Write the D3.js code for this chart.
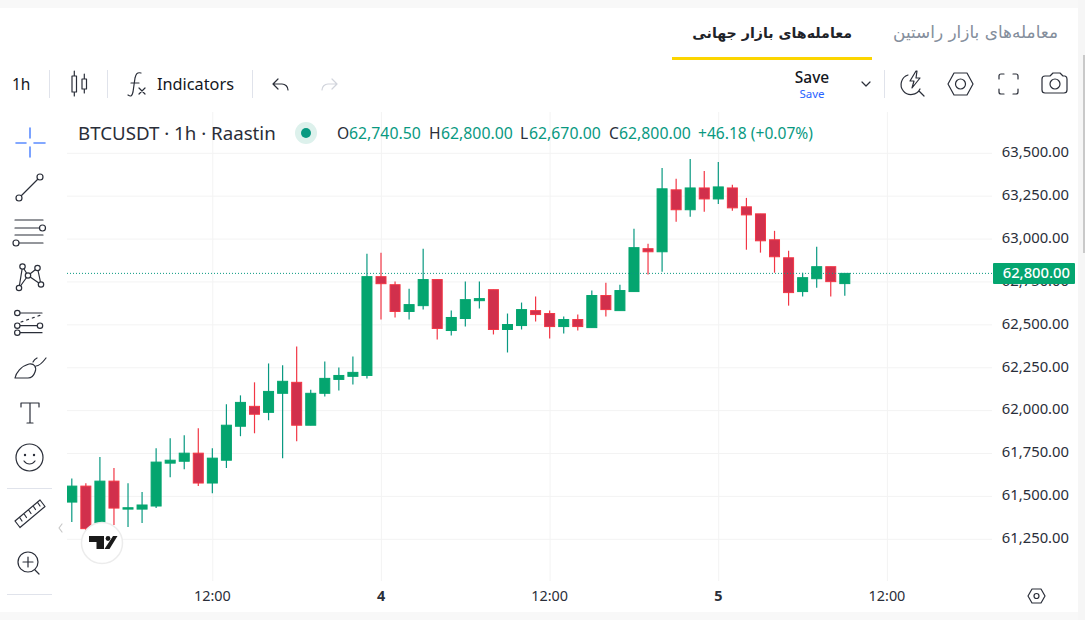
<!DOCTYPE html>
<html><head><meta charset="utf-8">
<style>html,body{margin:0;padding:0;background:#fff;overflow:hidden}svg{display:block}text{font-family:"Noto Sans",sans-serif}</style>
<script src="https://cdn.jsdelivr.net/npm/d3@7"></script></head>
<body><svg id="c" width="1085" height="620"></svg>
<script>
const opens =[61467,61560,61312,61589,61426,61426,61444,61694,61705,61752,61578,61711,61909,62025,61990,62101,62165,61915,62101,62182,62200,62205,62781,62734,62578,62612,62764,62467,62537,62641,62705,62473,62496,62583,62566,62490,62531,62484,62671,62583,62694,62944,62926,63287,63171,63298,63234,63298,63188,63147,62996,62891,62694,62769,62839,62740.5];
const highs =[61605,61577,61729,61665,61577,61525,61781,61839,61857,61897,61781,62037,62089,62165,62275,62264,62374,62122,62287,62252,62316,62915,62921,62752,62711,62944,62764,62583,62752,62752,62705,62566,62630,62665,62583,62548,62560,62700,62746,62734,63060,62973,63415,63351,63467,63397,63450,63316,63240,63147,63048,62932,62804,62955,62839,62800];
const lows  =[61351,61290,61295,61333,61322,61345,61432,61612,61659,61560,61519,61665,61851,61868,61944,61723,61822,61915,62083,62118,62153,62188,62531,62543,62531,62589,62415,62438,62490,62595,62444,62339,62473,62519,62421,62450,62467,62484,62548,62583,62694,62793,62810,63101,63130,63159,63205,63165,62938,62921,62804,62612,62665,62717,62665,62670];
const closes=[61560,61312,61589,61432,61434,61450,61700,61711,61752,61578,61723,61915,62048,61979,62112,62171,61915,62101,62188,62205,62223,62781,62740,62578,62618,62764,62479,62543,62647,62653,62473,62502,62589,62560,62490,62531,62490,62671,62589,62700,62950,62926,63293,63171,63298,63234,63304,63182,63141,62990,62897,62688,62775,62839,62752,62800];
const priceTicks=[63500,63250,63000,62750,62500,62250,62000,61750,61500,61250];
const timeIdx=[10,22,34,46,58];
const timeLabels=["12:00","4","12:00","5","12:00"];
const lastPrice=62800;
const legendO="62,740.50",legendH="62,800.00",legendL="62,670.00",legendC="62,800.00",legendChange="+46.18 (+0.07%)";

const UP="#04a56f",UPW="#089981",DN="#d1304c",DNW="#f23645",INK="#131722",GRID="#f3f3f3";
const svg=d3.select("#c");
const x=d3.scaleLinear().domain([0,55]).range([71.8,844.8]);
const y=d3.scaleLinear().domain([61250,63500]).range([539.3,153.3]);
const fmt=d3.format(",.2f");
const data=opens.map((o,i)=>({i,o,h:highs[i],l:lows[i],c:closes[i]}));

// page chrome
svg.append("rect").attr("width",1085).attr("height",8).attr("fill","#f8f8f8");
svg.append("rect").attr("y",612).attr("width",1085).attr("height",8).attr("fill","#f8f8f8");
svg.append("rect").attr("x",1078).attr("width",7).attr("height",620).attr("fill","#f6f6f6");
svg.append("rect").attr("x",1083).attr("y",55).attr("width",2).attr("height",198).attr("fill","#c9c9c9");

// grid
const defs=svg.append("defs");
defs.append("clipPath").attr("id","pane").append("rect").attr("x",67).attr("y",112).attr("width",925).attr("height",469);
const pane=svg.append("g").attr("clip-path","url(#pane)");
pane.append("g").selectAll("line").data(priceTicks).join("line")
 .attr("x1",67).attr("x2",992).attr("y1",d=>y(d)).attr("y2",d=>y(d)).attr("stroke",GRID);
pane.append("g").selectAll("line").data(timeIdx).join("line")
 .attr("x1",d=>x(d)+.4).attr("x2",d=>x(d)+.4).attr("y1",112).attr("y2",581).attr("stroke",GRID);

// candles
const g=pane.append("g").selectAll("g").data(data).join("g");
g.append("line").attr("x1",d=>x(d.i)).attr("x2",d=>x(d.i)).attr("y1",d=>y(d.h)).attr("y2",d=>y(d.l))
 .attr("stroke",d=>d.c>=d.o?UPW:DNW).attr("stroke-width",1.2);
g.append("rect").attr("x",d=>x(d.i)-5).attr("width",10)
 .attr("y",d=>y(Math.max(d.o,d.c))).attr("height",d=>Math.max(.6,Math.abs(y(d.o)-y(d.c))))
 .attr("fill",d=>d.c>=d.o?UP:DN).attr("stroke",d=>d.c>=d.o?UP:DNW).attr("stroke-width",1);

// last price line
svg.append("line").attr("x1",67).attr("x2",992).attr("y1",y(lastPrice)).attr("y2",y(lastPrice))
 .attr("stroke",UPW).attr("stroke-width",1).attr("stroke-dasharray","1 2");

// axes text
svg.append("g").selectAll("text").data(priceTicks).join("text")
 .attr("x",1069).attr("y",d=>y(d)+3.8).attr("text-anchor","end").attr("font-size",14.8).attr("fill","#2a2e39").text(fmt);
svg.append("rect").attr("x",993).attr("y",263).attr("width",82).attr("height",21).attr("rx",1).attr("fill",UP);
svg.append("text").attr("x",1070).attr("y",y(lastPrice)+5).attr("text-anchor","end").attr("font-size",14.8).attr("font-weight",500).attr("fill","#fff").text(fmt(lastPrice));
svg.append("g").selectAll("text").data(timeIdx).join("text")
 .attr("x",d=>x(d)).attr("y",601).attr("text-anchor","middle").attr("font-size",14.4)
 .attr("font-weight",(d,i)=>timeLabels[i].length===1?700:400).attr("fill","#2a2e39").text((d,i)=>timeLabels[i]);

// tabs
const tabs=svg.append("g");
tabs.append("text").attr("x",852).attr("y",38).attr("direction","rtl").attr("font-size",14.2).attr("font-weight",700).attr("fill","#1e2329").style("font-family","'DejaVu Sans'").text("معامله‌های بازار جهانی");
tabs.append("text").attr("x",1058).attr("y",38).attr("direction","rtl").attr("font-size",16.9).attr("fill","#848e9c").style("font-family","'DejaVu Sans'").text("معامله‌های بازار راستین");
svg.append("rect").attr("x",672).attr("y",57).attr("width",200).attr("height",3).attr("fill","#fcd500");

// toolbar
const t=(px,py,s,size,col,w,anch)=>svg.append("text").attr("x",px).attr("y",py).attr("font-size",size).attr("fill",col||INK).attr("font-weight",w||400).attr("text-anchor",anch||"start").text(s);
t(12,90,"1h",15.5);
t(157,90,"Indicators",16.3);
t(812,83,"Save",15.5,INK,500,"middle");
t(812,97.5,"Save",11.5,"#2962ff",400,"middle");
[49,107,252,884].forEach(v=>svg.append("line").attr("x1",v+.5).attr("x2",v+.5).attr("y1",70).attr("y2",98).attr("stroke","#e0e3eb"));
const ic=(d,col,w,fill)=>svg.append("path").attr("d",d).attr("fill",fill||"none").attr("stroke",col||"#2a2e39").attr("stroke-width",w||1.2).attr("stroke-linecap","round").attr("stroke-linejoin","round");
const circ=(cx,cy,r,col,w)=>svg.append("circle").attr("cx",cx).attr("cy",cy).attr("r",r).attr("fill","#fff").attr("stroke",col||"#2a2e39").attr("stroke-width",w||1.2);
// candle icon
ic("M72 76h4.500v16H72zM74.300 71v5M74.300 92v4M82 79h4.500v10H82zM84.300 74v5M84.300 89v4");
// fx
ic("M141 73c-4-1-5 1-6 5l-2 14c-1 4-2 5-5 3M131 83h8");
ic("M139 88l6 6M145 88l-6 6");
// undo redo
ic("M273 84h9a6 6 0 0 1 6 6M273 84l5-5M273 84l5 5");
ic("M337 84h-9a6 6 0 0 0-6 6M337 84l-5-5M337 84l-5 5","#d1d4dc");
// chevron
ic("M862 82l4 4 4-4");
// lightning search
ic("M919 91l5 5M908 75A10 10 0 1 0 920 89");
ic("M916 71l-6 10h4l-2 7 8-10h-4l1-7z");
// hexagon
ic("M948 84l6-11h13l6 11-6 11h-13z");circ(960.5,84,5);
// fullscreen
ic("M999 79v-3a2 2 0 0 1 2-2h3M1013 74h3a2 2 0 0 1 2 2v3M1018 89v3a2 2 0 0 1-2 2h-3M1004 94h-3a2 2 0 0 1-2-2v-3");
// camera
ic("M1042 79a3 3 0 0 1 3-3h5l3-3h7l3 3h2a3 3 0 0 1 2 3v11a3 3 0 0 1-3 3h-19a3 3 0 0 1-3-3z");circ(1055,84,5);

// legend
t(78,140,"BTCUSDT · 1h · Raastin",18.7,"#2a2e39",400);
svg.append("circle").attr("cx",306).attr("cy",133).attr("r",11).attr("fill","#ddf1ec");
svg.append("circle").attr("cx",306).attr("cy",133).attr("r",5).attr("fill",UPW);
[[337,"O",349,legendO],[429,"H",441,legendH],[520,"L",529,legendL],[609,"C",619,legendC]].forEach(r=>{
 t(r[0],139,r[1],15.6,"#2a2e39");t(r[2],139,r[3],15.8,UPW);
});
t(698,139,legendChange,15.6,UPW);

// left tools
ic("M16 143h10M34 143h11M30 128v10M30 147v10","#5b8cff",1.6);
ic("M21 196l17-17");circ(40,177,3);circ(19,198,3);
ic("M15 220h28M15 228h25M15 235h28M19 243h24");circ(42.5,228,3);circ(16,243,3);
ic("M22.5 266.5L28 275.5L37.5 268L41 284.5L28 275.5L19 288L22.5 266.5");
[[22.5,266.5],[37.5,268],[28,275.5],[41,284.5],[19,288]].forEach(p=>circ(p[0],p[1],2.7));
ic("M20 313h22M20 325.7h18M20 332.7h22");ic("M21 322l20-7","#2a2e39",1.2).attr("stroke-dasharray","2 4");
circ(17.3,313,2.7);circ(17.3,325.7,2.7);circ(40,325.7,2.7);circ(17.3,332.7,2.7);
ic("M15 378c1-5 6-12 14-14c5-1 8 3 6 8c-1 3-3 6-7 6zM33 362c1-2 2-3 4-4M36 366c3 0 7-4 10-8");
ic("M21 407v-4h18v4M30 403v20M27 423h6");
circ(29.5,457.5,13.5);ic("M24 461c3 4 8 4 11 0");
svg.append("circle").attr("cx",25).attr("cy",455).attr("r",1.2).attr("fill","#2a2e39");
svg.append("circle").attr("cx",34).attr("cy",455).attr("r",1.2).attr("fill","#2a2e39");
[488,594].forEach(v=>svg.append("line").attr("x1",7).attr("x2",52).attr("y1",v+.5).attr("y2",v+.5).attr("stroke","#e0e3eb"));
ic("M15 521l25-21l5 6.500l-25 21zM20 518l2 3M24.500 514.500l2 3M29 510.500l2 3M33.500 506.500l2 3M38 503l2 3");
circ(28,562,10);ic("M28 557v10M23 562h10M35 570l4 4");

// scroll chevron and logo
ic("M62 524l-3 4 3 4","#c8c8c8");
svg.append("circle").attr("cx",102).attr("cy",543).attr("r",20.500).attr("fill","#fff").attr("stroke","#ececec").attr("stroke-width",1.5);
svg.append("path").attr("d","M89 536h15v13h-7.500v-7H89zM113 536h4.500l-8 13h-5z").attr("fill","#1a1a1a");
svg.append("circle").attr("cx",108).attr("cy",538.500).attr("r",2.400).attr("fill","#1a1a1a");
// axis settings
ic("M1028 596l4-7h9l4 7-4 7h-9z");circ(1036.5,596,2.500);
</script></body></html>
